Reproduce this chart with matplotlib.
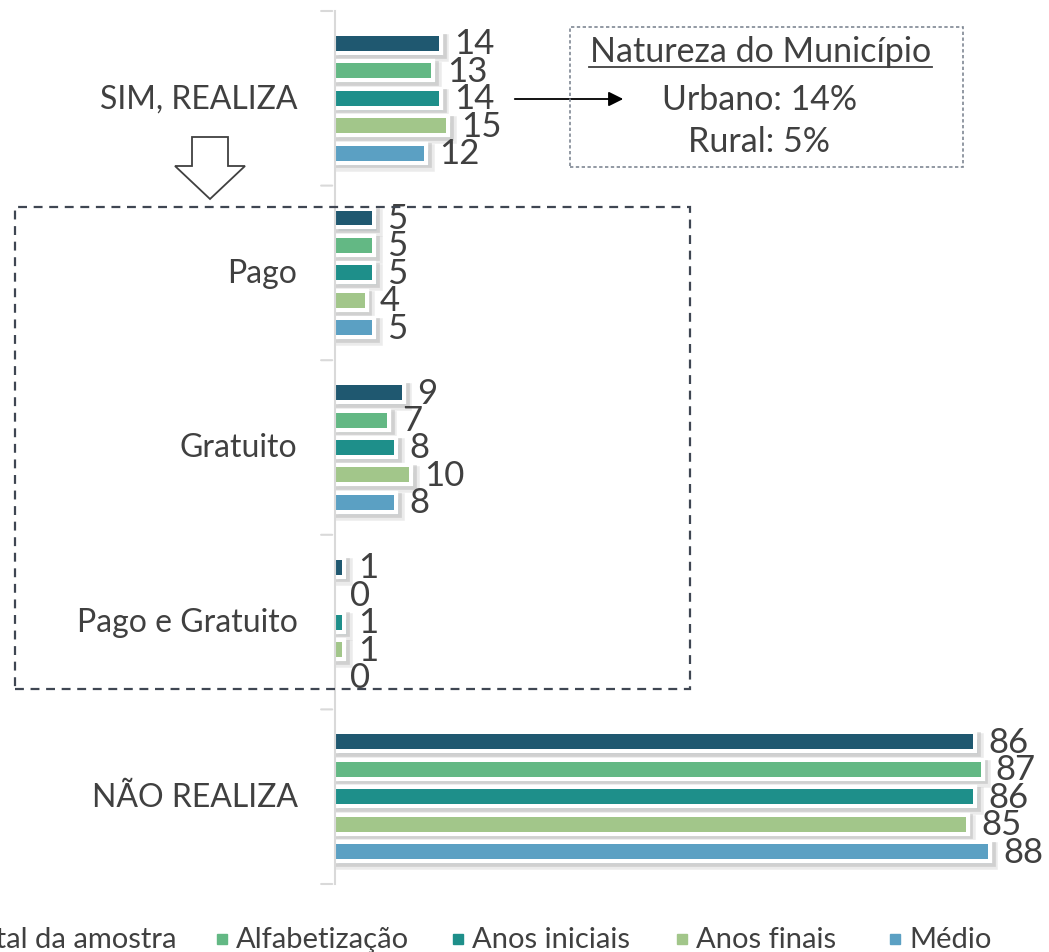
import matplotlib.pyplot as plt
import matplotlib.patches as mpatches
import matplotlib.patheffects as pe
from matplotlib.lines import Line2D
import numpy as np

# ────── Data ──────

categories = ["SIM, REALIZA", "Pago", "Gratuito", "Pago e Gratuito", "NÃO REALIZA"]
series = ["Total da amostra", "Alfabetização", "Anos iniciais", "Anos finais", "Médio"]
total_amostra = [14, 5, 9, 1, 86]
alfabetizacao = [13, 5, 7, 0, 87]
anos_iniciais = [14, 5, 8, 1, 86]
anos_finais = [15, 4, 10, 1, 85]
medio = [12, 5, 8, 0, 88]
values = [total_amostra, alfabetizacao, anos_iniciais, anos_finais, medio]

# ────── Style ──────

COLORS = ["#1F5870", "#63B884", "#1E8F8A", "#A2C68A", "#5BA0C3"]
TEXT = "#404040"
AXIS = "#D9D9D9"
plt.rcParams["font.family"] = ["Lato", "DejaVu Sans"]

W, H = 1049, 953
fig = plt.figure(figsize=(W / 100, H / 100), dpi=100)

# axes: zero line at x=335px, category band from y=12 to 885px
ax = fig.add_axes([335 / W, 1 - 885 / H, 1 - 335 / W, (885 - 12) / H])
ax.set_xlim(0, (W - 335) / 7.42)
ax.set_ylim(len(categories) - 0.5, -0.5)
ax.axis("off")

step = 0.157
bar_h = 0.085
# soft shadow, white border, bar
bar_fx = [pe.Stroke(linewidth=9, foreground="#B0B0B0", alpha=0.25, offset=(2.5, -3)),
          pe.Stroke(linewidth=7, foreground="#A0A0A0", alpha=0.35, offset=(2, -2)),
          pe.Stroke(linewidth=6, foreground="white"),
          pe.Normal()]

for s, (name, vals, col) in enumerate(zip(series, values, COLORS)):
    y = np.arange(len(categories)) + (s - 2) * step
    bars = ax.barh(y, vals, height=bar_h, color=col, edgecolor="none",
                   label=name, zorder=3)
    for b, v in zip(bars, vals):
        if v > 0:
            b.set_path_effects(bar_fx)
    for yy, v in zip(y, vals):
        ax.annotate(str(v), (v, yy), xytext=(11, 0), textcoords="offset points",
                    ha="left", va="center", fontsize=25, color=TEXT, zorder=5)

# y axis line and tick marks between categories
ax.plot([0, 0], [-0.5, len(categories) - 0.5], color=AXIS, lw=1.5, zorder=4,
        clip_on=False)
for k in range(len(categories) + 1):
    ax.annotate("", xy=(0, k - 0.5), xytext=(-12, 0), textcoords="offset points",
                arrowprops=dict(arrowstyle="-", color=AXIS, lw=1.5), annotation_clip=False)

# category labels
for k, cat in enumerate(categories):
    ax.annotate(cat, (0, k), xytext=(-27, 0), textcoords="offset points",
                ha="right", va="center", fontsize=23, color=TEXT, annotation_clip=False)

# ────── Annotations (figure pixels) ──────

def fx(px):
    return px / W


def fy(py):
    return 1 - py / H

# dashed box around the "SIM" breakdown
fig.patches.append(mpatches.Rectangle((fx(15), fy(690)), fx(690) - fx(15), fy(208) - fy(690),
                                      transform=fig.transFigure, fill=False,
                                      edgecolor="#3F4652", lw=1.6, ls=(0, (4, 3)), zorder=6))

# hollow down arrow
arrow = mpatches.FancyArrow(fx(210), fy(138), 0, -(fy(138) - fy(200)), width=fx(36) - fx(0),
                            head_width=fx(70) - fx(0), head_length=fy(167) - fy(200),
                            length_includes_head=True, transform=fig.transFigure,
                            facecolor="white", edgecolor="#404040", lw=1.3)
fig.patches.append(arrow)

# "Natureza do Município" box
fig.patches.append(mpatches.Rectangle((fx(570), fy(168)), fx(963) - fx(570), fy(28) - fy(168),
                                      transform=fig.transFigure, fill=False,
                                      edgecolor="#7F8793", lw=1.2, ls=(0, (2, 1.5))))
fig.text(fx(761), fy(52), "Natureza do Município", ha="center", va="center",
         fontsize=24.5, color=TEXT)
fig.add_artist(Line2D([fx(589), fx(932)], [fy(68), fy(68)], color=TEXT, lw=1.3))
fig.text(fx(760), fy(100), "Urbano: 14%", ha="center", va="center", fontsize=24.5, color=TEXT)
fig.text(fx(759), fy(142), "Rural: 5%", ha="center", va="center", fontsize=24.5, color=TEXT)
fig.add_artist(mpatches.FancyArrowPatch((fx(512), fy(100)), (fx(626), fy(100)),
                                        transform=fig.transFigure, arrowstyle="-|>",
                                        mutation_scale=22, color="black", lw=1.3))

# ────── Legend (cut off at the left like the source) ──────

legend_marker_x = [-52, 222, 458, 682, 895]
for name, col, mx in zip(series, COLORS, legend_marker_x):
    fig.add_artist(Line2D([fx(mx)], [fy(940)], marker="s", ls="", color=col, markersize=7))
    fig.text(fx(mx + 14), fy(940), name, ha="left", va="center", fontsize=21, color=TEXT)

fig.savefig("out.png", dpi=100, facecolor="white")
